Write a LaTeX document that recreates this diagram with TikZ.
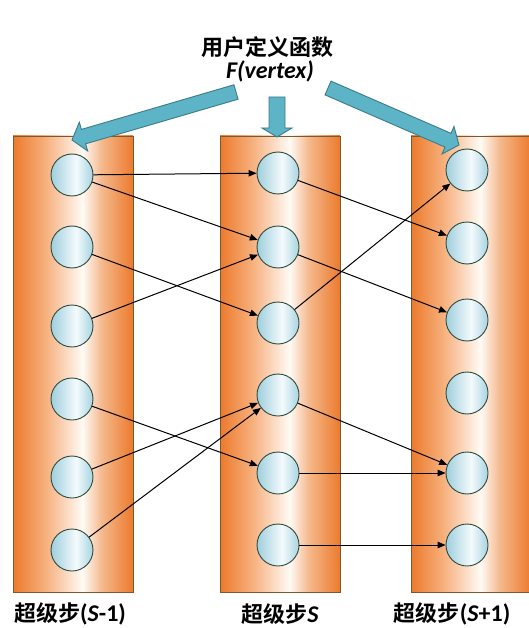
\documentclass[tikz,border=0pt]{standalone}
\usepackage{fontspec}
\usetikzlibrary{arrows.meta,calc}
\newfontfamily\cjk{Noto Sans CJK SC Bold}
\newfontfamily\lat{Carlito}
\definecolor{colOr}{HTML}{EC7A2C}
\definecolor{colOrL}{HTML}{F6AE7A}
\definecolor{colW}{HTML}{FFFAF5}
\definecolor{colOrR}{HTML}{F5B88C}
\definecolor{colEdge}{HTML}{7A5A2A}
\definecolor{cirL}{HTML}{9FCFDD}
\definecolor{cirW}{HTML}{F4FAFC}
\definecolor{cirR}{HTML}{A6D4E1}
\definecolor{cirEdge}{HTML}{2E4A3C}
\definecolor{barFill}{HTML}{5DB4C6}
\definecolor{barEdge}{HTML}{3B7C8A}
\pgfdeclarehorizontalshading{colshade}{100bp}{color(0bp)=(colOr); color(25bp)=(colOr); color(38bp)=(colOrL); color(54bp)=(colW); color(62bp)=(colOrR); color(75bp)=(colOr); color(100bp)=(colOr)}
\pgfdeclarehorizontalshading{cirshade}{100bp}{color(0bp)=(cirL); color(25bp)=(cirL); color(55bp)=(cirW); color(75bp)=(cirR); color(100bp)=(cirR)}
\tikzset{
  column/.style={rectangle, draw=colEdge, line width=0.8pt, shading=colshade, minimum width=120pt, minimum height=456pt, inner sep=0pt},
  vert/.style={circle, draw=cirEdge, line width=0.9pt, shading=cirshade, minimum size=42pt, inner sep=0pt},
  msg/.style={draw=black, line width=1pt, -{Triangle[length=8pt,width=6.5pt]}},
  barrow/.style={fill=barFill, draw=barEdge, line width=0.9pt, line join=miter},
  lbl/.style={inner sep=0pt, text=black}
}
\newcommand\blockarr[5]{% tail, tip, shaft half width, head half width, head length
  \path ($(#2)!#5!(#1)$) coordinate (bh);
  \draw[barrow] ($(#1)!#3!90:(#2)$) -- ($(bh)!#3!-90:(#1)$) -- ($(bh)!#4!-90:(#1)$) -- (#2)
    -- ($(bh)!#4!90:(#1)$) -- ($(bh)!#3!90:(#1)$) -- ($(#1)!#3!-90:(#2)$) -- cycle;}
\begin{document}
\begin{tikzpicture}[x=1pt,y=-1pt]
\useasboundingbox (0,0) rectangle (529,628);
\fill[white] (0,0) rectangle (529,628);
% columns
\node[column] (colL) at (73,364) {};
\node[column] (colM) at (280,364) {};
\node[column] (colR) at (471,364) {};
% block arrows
\coordinate (aLt) at (236,92);  \coordinate (aLh) at (72,140);
\coordinate (aMt) at (277,97);  \coordinate (aMh) at (277,137);
\coordinate (aRt) at (328,88);  \coordinate (aRh) at (459,145);
\blockarr{aLt}{aLh}{7.5pt}{15pt}{12pt}
\blockarr{aMt}{aMh}{8pt}{15pt}{9pt}
\blockarr{aRt}{aRh}{7.5pt}{15pt}{12pt}
% top text
\node[lbl] (title) at (267,47) {\cjk\fontsize{22}{24}\selectfont 用户定义函数};
\node[lbl] (func) at (270,71) {\lat\bfseries\itshape\fontsize{24}{26}\selectfont F(vertex)};
% vertices
\foreach \n/\y in {1/175,2/247,3/326,4/399,5/477,6/550} \node[vert] (L\n) at (72,\y) {};
\foreach \n/\y in {1/173,2/247,3/323,4/395,5/473,6/545} \node[vert] (M\n) at (278,\y) {};
\foreach \n/\y in {1/170,2/243,3/320,4/393,5/473,6/545} \node[vert] (R\n) at (467,\y) {};
% messages
\draw[msg] (L1) -- (M1);
\draw[msg] (L1) -- (M2);
\draw[msg] (L2) -- (M3);
\draw[msg] (L3) -- (M2);
\draw[msg] (L4) -- (M5);
\draw[msg] (L5) -- (M4);
\draw[msg] (L6) -- (M4);
\draw[msg] (M1) -- (R2);
\draw[msg] (M2) -- (R3);
\draw[msg] (M3) -- (R1);
\draw[msg] (M4) -- (R5);
\draw[msg] (M5) -- (R5);
\draw[msg] (M6) -- (R6);
% bottom labels
\node[lbl] (labL) at (70,614) {\cjk\fontsize{22}{24}\selectfont 超级步\lat\bfseries\fontsize{24}{26}\selectfont(\textit{S}-1)};
\node[lbl] (labM) at (280,614) {\cjk\fontsize{22}{24}\selectfont 超级步\lat\bfseries\fontsize{24}{26}\selectfont\textit{S}};
\node[lbl] (labR) at (452,614) {\cjk\fontsize{22}{24}\selectfont 超级步\lat\bfseries\fontsize{24}{26}\selectfont(\textit{S}+1)};
\end{tikzpicture}
\end{document}
